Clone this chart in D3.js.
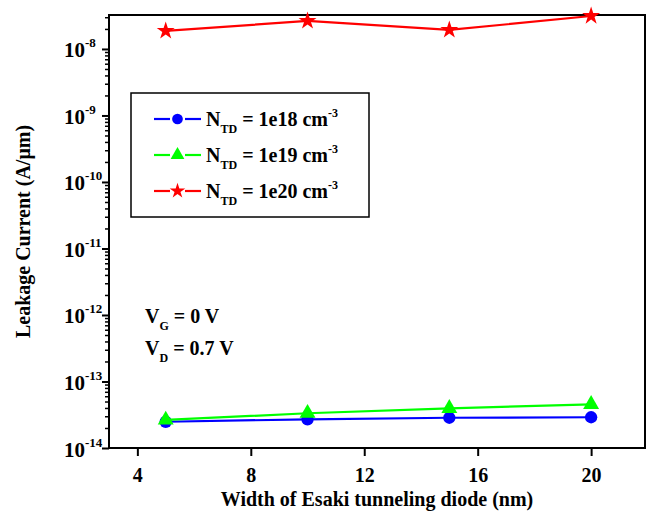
<!doctype html>
<html lang="en">
<head>
<meta charset="utf-8">
<title>Leakage current vs Esaki diode width</title>
<style>
  body { margin: 0; background: #fff; }
  text { font-family: "Liberation Serif", "Times New Roman", serif; font-weight: bold; fill: #000; }
</style>
</head>
<body>
<script src="https://cdnjs.cloudflare.com/ajax/libs/d3/7.8.5/d3.min.js"></script>
<script>
// data
var widths = [5, 10, 15, 20];
var leak1e18 = [2.48e-14, 2.70e-14, 2.85e-14, 2.90e-14];
var leak1e19 = [2.64e-14, 3.33e-14, 3.95e-14, 4.54e-14];
var leak1e20 = [1.87e-8, 2.64e-8, 1.93e-8, 3.13e-8];
var xTicks = [4, 8, 12, 16, 20];
var yExps = [-14, -13, -12, -11, -10, -9, -8];
var seriesNames = ["1e18", "1e19", "1e20"];

var w = 649, h = 520;
var pl = 109, pt = 15, pr = 645, pb = 448;

var svg = d3.select("body").append("svg")
    .attr("width", w)
    .attr("height", h);

var x = d3.scaleLinear().domain([3, 21.9]).range([pl, pr]);
var y = d3.scaleLog().domain([1e-14, 3.24e-8]).range([pb, pt]);

var series = [
  { name: seriesNames[0], values: leak1e18, color: "#0000ff", marker: "circle" },
  { name: seriesNames[1], values: leak1e19, color: "#00ff00", marker: "triangle" },
  { name: seriesNames[2], values: leak1e20, color: "#ff0000", marker: "star" }
];

function markerPath(type, k) {
  k = k || 1;
  if (type == "circle") return d3.symbol().type(d3.symbolCircle).size(120 * k)();
  if (type == "triangle") return d3.symbol().type(d3.symbolTriangle).size(110 * k)();
  return d3.symbol().type(d3.symbolStar).size(100 * k)();
}

// x axis
var xAxis = svg.append("g")
    .attr("transform", "translate(0," + pb + ")")
    .call(d3.axisBottom(x).tickValues(xTicks).tickSize(8).tickPadding(12).tickFormat(d3.format("d")));
xAxis.select(".domain").remove();
xAxis.selectAll("line").attr("stroke-width", 2);
xAxis.selectAll("text").attr("font-size", 20).attr("font-family", null);

// y axis: minor ticks, then major ticks with 10^n labels
var minors = [];
for (var e = -14; e <= -8; e++) {
  for (var m = 2; m <= 9; m++) {
    if (m * Math.pow(10, e) <= 3.24e-8) minors.push(m * Math.pow(10, e));
  }
}
var yMinor = svg.append("g").attr("transform", "translate(" + pl + ",0)")
    .call(d3.axisLeft(y).tickValues(minors).tickSize(4).tickFormat(""));
yMinor.select(".domain").remove();
yMinor.selectAll("line").attr("stroke-width", 1.5);

var yMajor = svg.append("g").attr("transform", "translate(" + pl + ",0)")
    .call(d3.axisLeft(y).tickValues(yExps.map(function(e) { return Math.pow(10, e); })).tickSize(7).tickFormat(""));
yMajor.select(".domain").remove();
yMajor.selectAll("line").attr("stroke-width", 2);

yMajor.selectAll(".tick").each(function(d) {
  var t = d3.select(this).append("text")
      .attr("x", -45)
      .attr("y", 8)
      .attr("text-anchor", "start")
      .attr("font-size", 21)
      .attr("font-family", null);
  t.append("tspan").text("10");
  t.append("tspan").attr("font-size", 13).attr("dy", -10)
      .text(Math.round(Math.log10(d)));
});

// frame
svg.append("rect")
    .attr("x", pl).attr("y", pt)
    .attr("width", pr - pl).attr("height", pb - pt)
    .attr("fill", "none").attr("stroke", "#000").attr("stroke-width", 2);

// lines and markers
var line = d3.line()
    .x(function(d, i) { return x(widths[i]); })
    .y(function(d) { return y(d); });

series.forEach(function(s) {
  svg.append("path")
      .datum(s.values)
      .attr("d", line)
      .attr("fill", "none")
      .attr("stroke", s.color)
      .attr("stroke-width", 2.2);
  svg.selectAll(".m-" + s.marker)
      .data(s.values)
      .enter()
      .append("path")
      .attr("class", "m-" + s.marker)
      .attr("d", markerPath(s.marker))
      .attr("transform", function(d, i) { return "translate(" + x(widths[i]) + "," + y(d) + ")"; })
      .attr("fill", s.color);
});

// legend
svg.append("rect")
    .attr("x", 131).attr("y", 93)
    .attr("width", 238).attr("height", 124)
    .attr("fill", "#fff").attr("stroke", "#000").attr("stroke-width", 1.5);

series.forEach(function(s, i) {
  var ly = 119 + i * 36;
  [[154, 170], [185, 201]].forEach(function(seg) {
    svg.append("line")
        .attr("x1", seg[0]).attr("x2", seg[1]).attr("y1", ly).attr("y2", ly)
        .attr("stroke", s.color).attr("stroke-width", 2.2);
  });
  svg.append("path")
      .attr("d", markerPath(s.marker, 0.75))
      .attr("transform", "translate(177.5," + ly + ")")
      .attr("fill", s.color);
  var t = svg.append("text").attr("x", 206).attr("y", ly + 7).attr("font-size", 20);
  t.append("tspan").text("N");
  t.append("tspan").attr("font-size", 12).attr("dy", 7).text("TD");
  t.append("tspan").attr("dy", -7).text(" = " + s.name + " cm");
  t.append("tspan").attr("font-size", 12).attr("dy", -9).text("-3");
});

// bias annotation
var vg = svg.append("text").attr("x", 145).attr("y", 323).attr("font-size", 20);
vg.append("tspan").text("V");
vg.append("tspan").attr("font-size", 12).attr("dy", 7).text("G");
vg.append("tspan").attr("dy", -7).text(" = 0 V");
var vd = svg.append("text").attr("x", 145).attr("y", 355).attr("font-size", 20);
vd.append("tspan").text("V");
vd.append("tspan").attr("font-size", 12).attr("dy", 7).text("D");
vd.append("tspan").attr("dy", -7).text(" = 0.7 V");

// axis titles
svg.append("text")
    .attr("x", (pl + pr) / 2).attr("y", 506)
    .attr("text-anchor", "middle").attr("font-size", 20)
    .text("Width of Esaki tunneling diode (nm)");
svg.append("text")
    .attr("transform", "translate(30," + (pt + pb) / 2 + ") rotate(-90)")
    .attr("text-anchor", "middle").attr("font-size", 20)
    .text("Leakage Current (A/\u03bcm)");
</script>
</body>
</html>
